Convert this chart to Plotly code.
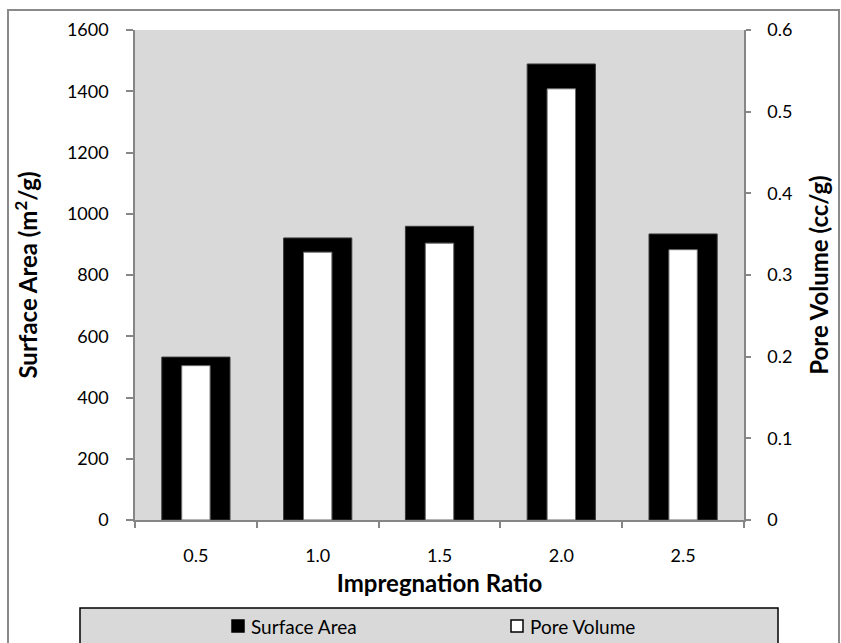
import plotly.graph_objects as go

# ---- data ----
ratios = ["0.5", "1.0", "1.5", "2.0", "2.5"]
surface_area = [532, 921, 959, 1489, 934]          # m2/g (left axis)
pore_volume = [0.189, 0.328, 0.339, 0.528, 0.331]  # cc/g (right axis)
left_ticks = [0, 200, 400, 600, 800, 1000, 1200, 1400, 1600]
right_ticks = [0, 0.1, 0.2, 0.3, 0.4, 0.5, 0.6]
legend_names = ["Surface Area", "Pore Volume"]

W, H = 841, 643
L, R, T, B = 135, 744, 30, 520  # plot area pixel bounds
pw, ph = R - L, B - T

def px(x):
    return (x - L) / pw

def py(y):
    return (B - y) / ph

FONT = "Lato"
AXIS_GRAY = "#868686"

fig = go.Figure()
fig.add_trace(go.Bar(
    x=ratios, y=surface_area, name=legend_names[0], yaxis="y",
    width=0.56, marker=dict(color="#000000", line=dict(color="#3a3a3a", width=1)),
))
fig.add_trace(go.Bar(
    x=ratios, y=pore_volume, name=legend_names[1], yaxis="y2",
    width=0.233, marker=dict(color="#ffffff", line=dict(color="#6a6a6a", width=1)),
))

# legend drawn as a boxed strip under the axis title (Excel style)
leg_y = 626
leg_items = [(232, 249, "#000000"), (511, 528, "#ffffff")]
shapes = [
    # outer chart border
    dict(type="rect", xref="paper", yref="paper",
         x0=px(8), x1=px(839), y0=py(670), y1=py(10),
         line=dict(color="#8a8a8a", width=2), fillcolor="rgba(0,0,0,0)", layer="below"),
    # legend box
    dict(type="rect", xref="paper", yref="paper",
         x0=px(80), x1=px(778), y0=py(650), y1=py(608),
         line=dict(color="#000000", width=1.5), fillcolor="#d9d9d9", layer="below"),
]
annotations = []
for (sx, tx, col), name in zip(leg_items, legend_names):
    shapes.append(dict(type="rect", xref="paper", yref="paper",
                       x0=px(sx), x1=px(sx + 12), y0=py(leg_y + 6), y1=py(leg_y - 6),
                       line=dict(color="#000000", width=1.5), fillcolor=col, layer="above"))
    annotations.append(dict(text=name, xref="paper", yref="paper", x=px(tx), y=py(leg_y),
                            xanchor="left", yanchor="middle", showarrow=False,
                            font=dict(family=FONT, size=19, color="#000000")))

fig.update_layout(
    width=W, height=H,
    margin=dict(l=L, r=W - R, t=T, b=H - B, pad=0, autoexpand=False),
    paper_bgcolor="#ffffff",
    plot_bgcolor="#d9d9d9",
    barmode="overlay",
    showlegend=False,
    font=dict(family=FONT, size=18, color="#000000"),
    xaxis=dict(
        type="category", range=[-0.5, 4.5],
        showline=True, linecolor=AXIS_GRAY, linewidth=1.5,
        ticks="outside", tickson="boundaries", ticklen=6, tickcolor=AXIS_GRAY, tickwidth=1.5,
        showgrid=False, zeroline=False,
        tickfont=dict(family=FONT, size=18),
        ticklabelstandoff=19,
        title=dict(text="<b>Impregnation Ratio</b>", font=dict(family=FONT, size=24), standoff=10),
    ),
    yaxis=dict(
        range=[0, 1600], tickvals=left_ticks, tickformat="d",
        showline=True, linecolor=AXIS_GRAY, linewidth=1.5,
        ticks="outside", ticklen=7, tickcolor=AXIS_GRAY, tickwidth=1.5,
        showgrid=False, zeroline=False,
        tickfont=dict(family=FONT, size=18),
        ticklabelstandoff=14,
        title=dict(text="<b>Surface Area (m<sup>2</sup>/g)</b>", font=dict(family=FONT, size=24), standoff=22),
    ),
    yaxis2=dict(
        range=[0, 0.6], tickvals=right_ticks,
        overlaying="y", side="right", anchor="x",
        showline=True, linecolor=AXIS_GRAY, linewidth=1.5,
        ticks="outside", ticklen=5, tickcolor=AXIS_GRAY, tickwidth=1.5,
        showgrid=False, zeroline=False,
        tickfont=dict(family=FONT, size=18),
        ticklabelstandoff=13,
        title=dict(text="<b>Pore Volume (cc/g)</b>", font=dict(family=FONT, size=24), standoff=20),
    ),
    shapes=shapes,
    annotations=annotations,
)

fig.write_html("out.html")
